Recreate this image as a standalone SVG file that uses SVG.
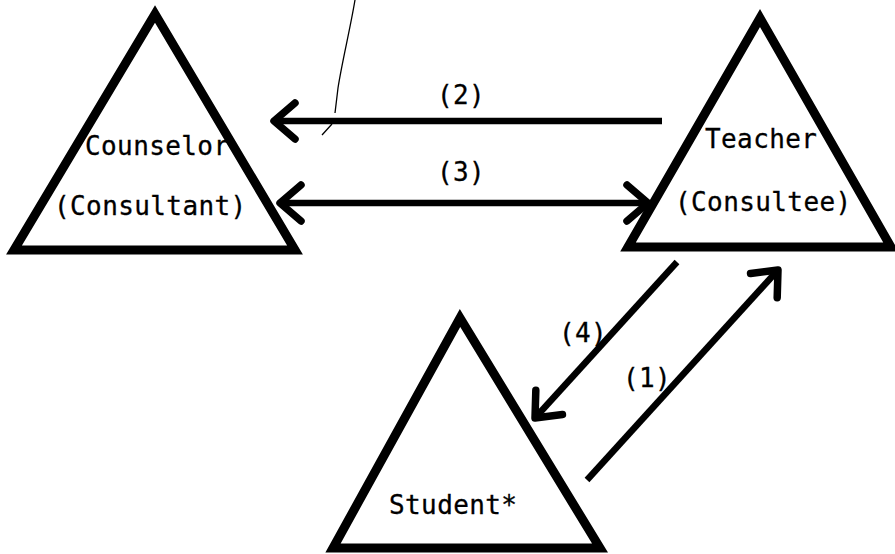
<svg xmlns="http://www.w3.org/2000/svg" width="895" height="554" viewBox="0 0 895 554">
<style>
.tri{fill:none;stroke:#000;stroke-width:9;stroke-linejoin:miter}
.lbl{font-family:"DejaVu Sans Mono","Liberation Mono",monospace;font-size:26px;letter-spacing:0.4px;fill:#000;stroke:#000;stroke-width:0.3}
.arr{fill:none;stroke:#000;stroke-width:6.5;stroke-linecap:butt}
</style>
<defs>
<marker id="ah" markerUnits="userSpaceOnUse" viewBox="-30 -25 40 50" markerWidth="40" markerHeight="50" refX="0" refY="0" orient="auto-start-reverse">
<path d="M-21,-18 L0,0 L-21,18" fill="none" stroke="#000" stroke-width="7.5" stroke-linecap="round" stroke-linejoin="round"/>
</marker>
</defs>
<rect width="895" height="554" fill="#fff"/>
<path d="M355,0 C350,30 342,62 338,88 L335,113 M332,124 L322,135" fill="none" stroke="#000" stroke-width="1.3"/>
<g id="counselor">
<text class="lbl" x="85" y="155">Counselor</text>
<text class="lbl" x="54" y="215">(Consultant)</text>
<polygon class="tri" points="155,14 14,250 295,250"/>
</g>
<g id="teacher">
<text class="lbl" x="705" y="148">Teacher</text>
<text class="lbl" x="675" y="211">(Consultee)</text>
<polygon class="tri" points="760,18 628,247 891,247"/>
</g>
<g id="student">
<text class="lbl" x="389" y="514">Student*</text>
<polygon class="tri" points="460,318 333,548 600,548"/>
</g>
<g id="connectors">
<path class="arr" d="M662,121 L274,121" marker-end="url(#ah)"/>
<path class="arr" d="M280,203 L648,203" marker-start="url(#ah)" marker-end="url(#ah)"/>
<path class="arr" d="M677,262 L535,418" marker-end="url(#ah)"/>
<path class="arr" d="M587,480 L778,270" marker-end="url(#ah)"/>
<text class="lbl" x="437" y="104">(2)</text>
<text class="lbl" x="437" y="181">(3)</text>
<text class="lbl" x="559" y="342">(4)</text>
<text class="lbl" x="623" y="387">(1)</text>
</g>
</svg>
